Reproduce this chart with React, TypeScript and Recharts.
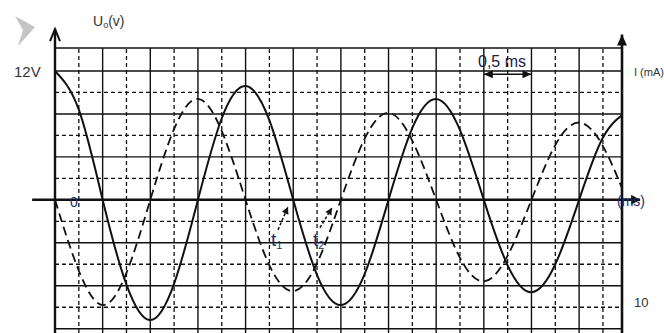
import React from "react";
import {ComposedChart, Line, ReferenceLine, XAxis, YAxis} from "recharts";

// time in ms, one sample per small grid division
const times = [0, 0.25, 0.5, 0.75, 1, 1.25, 1.5, 1.75, 2, 2.25, 2.5, 2.75, 3, 3.25, 3.5, 3.75, 4, 4.25, 4.5, 4.75, 5, 5.25, 5.5, 5.75, 6];
// U0 (V), solid curve
const voltage = [12, 8.4, 0, -7.9, -11.2, -7.8, 0, 7.6, 10.6, 7.4, 0, -7.0, -9.8, -6.9, 0, 6.7, 9.4, 6.5, 0, -6.1, -8.6, -6.0, 0, 5.8, 8.2];
// I (mA), dashed curve, drawn on the same scale
const current = [0, -6.6, -9.8, -6.8, 0, 6.6, 9.4, 6.4, 0, -6.1, -8.5, -5.9, 0, 5.7, 8.1, 5.5, 0, -5.4, -7.6, -5.2, 0, 5.1, 7.2, 5.0, 0];

const majorX = [0.5, 1, 1.5, 2, 2.5, 3, 3.5, 4, 4.5, 5, 5.5];
const minorX = [0.25, 0.75, 1.25, 1.75, 2.25, 2.75, 3.25, 3.75, 4.25, 4.75, 5.25, 5.75];
const majorY = [12, 8, 4, -4, -8, -12];
const minorY = [10, 6, 2, -2, -6, -10];

const xMax = 5.95;
const yMin = -12.4;
const yMax = 14.14;

const data = times.map((t, i) => ({t, u: voltage[i], i: current[i]}));

const ink = "#111";
const blue = "#1c2f6b";
const grey = "#333";
const font = "'Liberation Sans Narrow', 'Liberation Sans', Arial, sans-serif";

type ArrowOpts = { open?: boolean; both?: boolean; len?: number; half?: number };

const head = (x1: number, y1: number, x2: number, y2: number, o: ArrowOpts, color: string, key: string) => {
    const dx = x2 - x1, dy = y2 - y1;
    const d = Math.sqrt(dx * dx + dy * dy) || 1;
    const ux = dx / d, uy = dy / d;
    const L = o.len ?? 10, W = o.half ?? 5;
    const bx = x2 - ux * L, by = y2 - uy * L;
    const p1 = `${bx - uy * W},${by + ux * W}`;
    const p2 = `${bx + uy * W},${by - ux * W}`;
    return o.open
        ? <polyline key={key} points={`${p1} ${x2},${y2} ${p2}`} fill="none" stroke={color} strokeWidth={2}/>
        : <polygon key={key} points={`${p1} ${x2},${y2} ${p2}`} fill={color} stroke="none"/>;
};

const arrowShape = (o: ArrowOpts) => (props: any) => {
    const {x1, y1, x2, y2, stroke, strokeWidth, strokeDasharray} = props;
    return (
        <g>
            <line x1={x1} y1={y1} x2={x2} y2={y2} stroke={stroke} strokeWidth={strokeWidth}
                  strokeDasharray={strokeDasharray}/>
            {head(x1, y1, x2, y2, o, stroke, "a")}
            {o.both ? head(x2, y2, x1, y1, o, stroke, "b") : null}
        </g>
    );
};

const App = () => {
    return (
        <div style={{position: 'absolute', left: 0, top: 0, width: 664, height: 333, overflow: 'hidden', background: '#fff'}}>
            <ComposedChart width={664} height={333} data={data} margin={{top: 48, right: 42, bottom: 0, left: 55}}>
                <XAxis dataKey="t" type="number" domain={[0, xMax]} allowDataOverflow hide/>
                <YAxis type="number" domain={[yMin, yMax]} allowDataOverflow hide/>
                {minorX.map(v => <ReferenceLine key={'mx' + v} x={v} stroke={ink} strokeWidth={1.3} strokeDasharray="4 3"/>)}
                {minorY.map(v => <ReferenceLine key={'my' + v} y={v} stroke={ink} strokeWidth={1.3} strokeDasharray="4 3"/>)}
                {majorX.map(v => <ReferenceLine key={'Mx' + v} x={v} stroke={ink} strokeWidth={1.4}/>)}
                {majorY.map(v => <ReferenceLine key={'My' + v} y={v} stroke={ink} strokeWidth={1.4}/>)}
                <ReferenceLine y={yMax} stroke={ink} strokeWidth={1.4}/>
                <Line dataKey="i" type="natural" stroke={ink} strokeWidth={1.8} strokeDasharray="9 5" dot={false}
                      isAnimationActive={false}/>
                <Line dataKey="u" type="natural" stroke={ink} strokeWidth={2} dot={false} isAnimationActive={false}/>
                <ReferenceLine segment={[{x: -0.24, y: 0}, {x: 6.14, y: 0}]} ifOverflow="visible" stroke={ink}
                               strokeWidth={2.5} shape={arrowShape({len: 9, half: 5})}/>
                <ReferenceLine segment={[{x: 0, y: yMin}, {x: 0, y: 15.9}]} ifOverflow="visible" stroke={ink}
                               strokeWidth={2.4} shape={arrowShape({open: true, len: 12, half: 5})}/>
                <ReferenceLine segment={[{x: xMax, y: yMin}, {x: xMax, y: 15.4}]} ifOverflow="visible" stroke={ink}
                               strokeWidth={2.6} shape={arrowShape({len: 11, half: 5})}/>
                <ReferenceLine segment={[{x: 4.5, y: 11.7}, {x: 5.0, y: 11.7}]} ifOverflow="visible" stroke={ink}
                               strokeWidth={1.6} shape={arrowShape({both: true, len: 9, half: 4})}/>
                <ReferenceLine segment={[{x: 2.34, y: -2.8}, {x: 2.445, y: -0.65}]} ifOverflow="visible" stroke={ink}
                               strokeWidth={1.5} strokeDasharray="3 2" shape={arrowShape({len: 7, half: 3.5})}/>
                <ReferenceLine segment={[{x: 2.78, y: -2.6}, {x: 2.907, y: -0.74}]} ifOverflow="visible" stroke={ink}
                               strokeWidth={1.5} strokeDasharray="3 2" shape={arrowShape({len: 7, half: 3.5})}/>
            </ComposedChart>
            <svg width={664} height={333}
                 style={{position: 'absolute', left: 0, top: 0, pointerEvents: 'none', zIndex: 2}}>
                <polygon points="15,16 35,27 18,46 23,30" fill="#c4c4c4"/>
                <text x={93} y={26} fontFamily={font} fontSize={14} fill={grey}>
                    U<tspan fontSize={9} dy={2}>o</tspan><tspan dy={-2}>(v)</tspan>
                </text>
                <text x={14} y={77} fontFamily={font} fontSize={15} fill={grey}>12V</text>
                <text x={70} y={207} fontFamily={font} fontSize={14} fill={blue}>0</text>
                <text x={271} y={246} fontFamily={font} fontSize={19} fill={blue}>
                    t<tspan fontSize={11} dy={3}>1</tspan>
                </text>
                <text x={313} y={246} fontFamily={font} fontSize={19} fill={blue}>
                    t<tspan fontSize={11} dy={3}>2</tspan>
                </text>
                <text x={478} y={67} fontFamily={font} fontSize={16} fill="#1a2040">0,5 ms</text>
                <text x={634} y={76} fontFamily={font} fontSize={11} fill={grey}>I (mA)</text>
                <text x={634} y={307} fontFamily={font} fontSize={13} fill={grey}>10</text>
                <text x={617} y={206} fontFamily={font} fontSize={14} fill={blue}>(ms)</text>
            </svg>
        </div>
    );
};

export default App;
